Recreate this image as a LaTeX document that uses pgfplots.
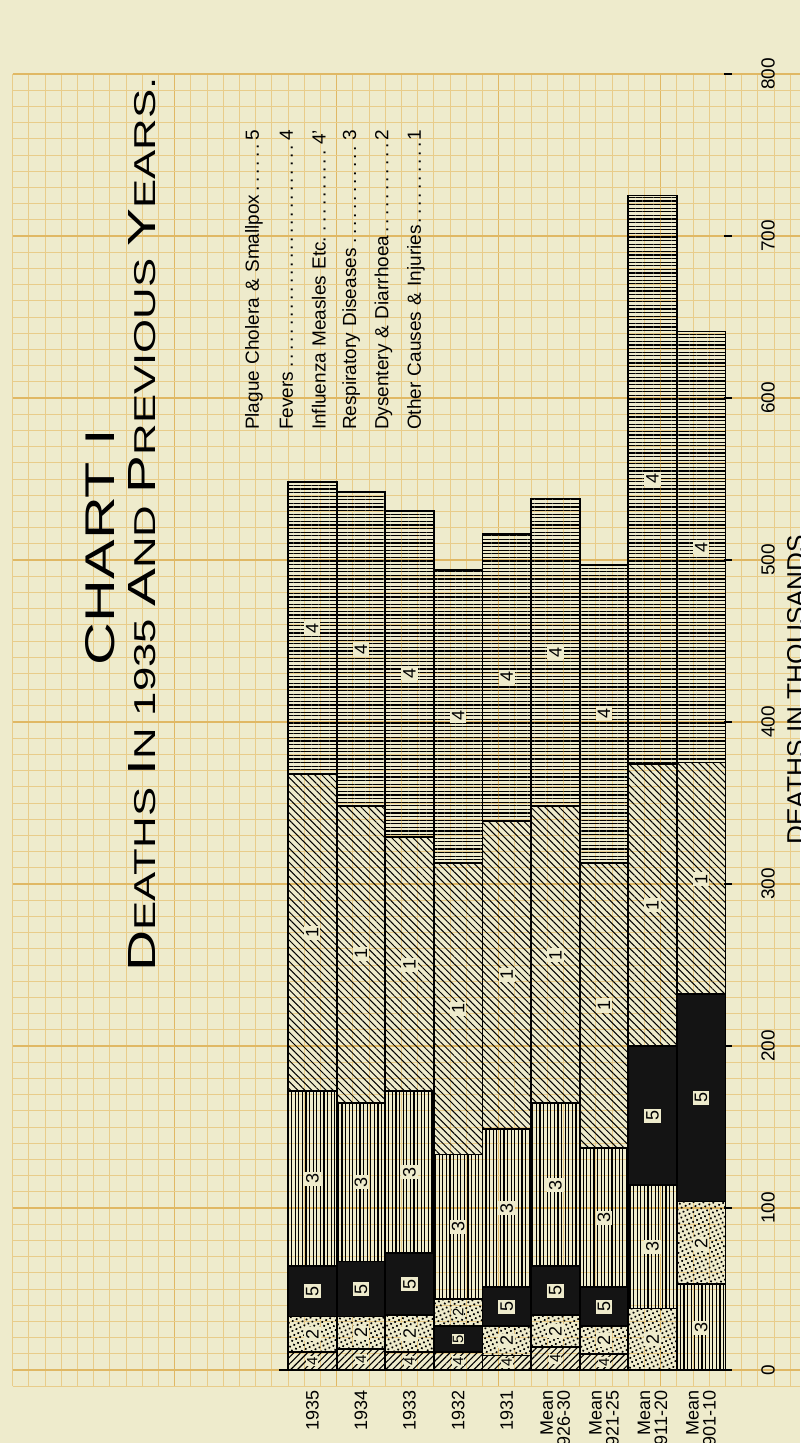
\documentclass[border=0pt]{standalone}
\usepackage{fontspec}
\setmainfont{Liberation Sans}
\usepackage{graphicx}
\usepackage{pgfplots}
\pgfplotsset{compat=1.18}
\usepackage{pgfplotstable}
\usetikzlibrary{patterns.meta}

\definecolor{paper}{RGB}{238,235,204}
\definecolor{gridmin}{RGB}{232,204,138}
\definecolor{gridmaj}{RGB}{224,184,100}

% deaths in thousands, stacked from the base of each column
% x = column centre in grid squares (3 squares per column)
\pgfplotstableread{
x    infl reslow plglow dys resmid plg res oth fev
1.5  11   0      0      22  0      31  108 196 180
4.5  13   0      0      20  0      34  98  183 194
7.5  11   0      0      23  0      38  100 157 201
10.5 11   0      16     17  0      0   89  180 181
13.5 9    0      0      18  0      24  98  190 177
16.5 14   0      0      20  0      30  101 183 190
19.5 10   0      0      17  0      24  86  176 184
22.5 0    0      0      38  76     86  0   174 351
25.5 0    53     0      51  0      128 0   143 266
}\deaths

\newcommand\bc[1]{\scalebox{1.3}{#1}}

\begin{document}
\begin{tikzpicture}[
  lbl/.style={rotate=90, fill=paper, inner sep=1pt, font=\fontsize{9}{9}\selectfont},
  lbs/.style={rotate=90, fill=paper, inner sep=0.4pt, font=\fontsize{7.5}{7.5}\selectfont},
  leg/.style={rotate=90, anchor=west, text width=150pt, align=left, inner sep=0pt,
              font=\fontsize{9.5}{10}\selectfont},
  cat/.style={rotate=90, anchor=east, align=right, inner sep=0pt,
              font=\fontsize{9}{8.5}\selectfont},
]
\fill[paper] (-6.3pt,-28.4pt) rectangle (393.7pt,693.1pt);
\begin{axis}[
  at={(0,0)}, anchor=south west,
  scale only axis, width=393.7pt, height=656.1pt,
  xmin=-17, xmax=31.605, ymin=-10, ymax=800,
  axis line style={draw=none},
  major tick length=0pt, minor tick length=0pt,
  xtick={-7,3,13,23}, minor xtick={-17,-16,...,31},
  ytick={0,100,...,800}, minor ytick={-10,0,...,800},
  xticklabels={}, yticklabels={},
  grid=both,
  major grid style={draw=gridmaj, line width=0.7pt},
  minor grid style={draw=gridmin, line width=0.4pt},
  clip=false,
  ybar stacked, bar width=3,
  every axis plot/.append style={draw=black, line width=0.9pt},
]
\addplot[pattern={Lines[angle=45,distance=2.4pt,line width=0.55pt]}, pattern color=black]
  table[x=x,y=infl]{\deaths};
\addplot[pattern={Lines[angle=90,distance=1.8pt,line width=0.55pt]}, pattern color=black]
  table[x=x,y=reslow]{\deaths};
\addplot[fill=black!92]
  table[x=x,y=plglow]{\deaths};
\addplot[pattern={Dots[distance=2.2pt,radius=0.6pt,angle=25]}, pattern color=black]
  table[x=x,y=dys]{\deaths};
\addplot[pattern={Lines[angle=90,distance=1.8pt,line width=0.55pt]}, pattern color=black]
  table[x=x,y=resmid]{\deaths};
\addplot[fill=black!92]
  table[x=x,y=plg]{\deaths};
\addplot[pattern={Lines[angle=90,distance=1.8pt,line width=0.55pt]}, pattern color=black]
  table[x=x,y=res]{\deaths};
\addplot[pattern={Lines[angle=-45,distance=2.5pt,line width=0.5pt]}, pattern color=black]
  table[x=x,y=oth]{\deaths};
\addplot[pattern={Lines[angle=0,distance=1.8pt,line width=0.55pt]}, pattern color=black]
  table[x=x,y=fev]{\deaths};

% base line and scale ticks
\draw[line width=1.4pt] (axis cs:-0.55,0) -- (axis cs:27.4,0);
\pgfplotsinvokeforeach{0,100,...,800}{
  \draw[line width=0.9pt] (axis cs:26.9,#1) -- (axis cs:27.4,#1);
  \node[rotate=90, font=\fontsize{9.5}{9.5}\selectfont] at (axis cs:29.63,#1) {#1};
}

% column names
\node[cat] at (axis cs:1.5,-12.3) {1935};
\node[cat] at (axis cs:4.5,-12.3) {1934};
\node[cat] at (axis cs:7.5,-12.3) {1933};
\node[cat] at (axis cs:10.5,-12.3) {1932};
\node[cat] at (axis cs:13.5,-12.3) {1931};
\node[cat] at (axis cs:16.5,-12.3) {Mean\\1926-30};
\node[cat] at (axis cs:19.5,-12.3) {Mean\\1921-25};
\node[cat] at (axis cs:22.5,-12.3) {Mean\\1911-20};
\node[cat] at (axis cs:25.5,-12.3) {Mean\\1901-10};

% key
\node[leg] at (axis cs:-2.1,580) {Plague Cholera \& Smallpox\dotfill 5};
\node[leg] at (axis cs:-0.1,580) {Fevers\dotfill 4};
\node[leg] at (axis cs:1.9,580) {Influenza Measles Etc.\dotfill 4'};
\node[leg] at (axis cs:3.9,580) {Respiratory Diseases\dotfill 3};
\node[leg] at (axis cs:5.9,580) {Dysentery \& Diarrhoea\dotfill 2};
\node[leg] at (axis cs:7.9,580) {Other Causes \& Injuries\dotfill 1};

% titles
\node[rotate=90, inner sep=0pt] at (axis cs:-11.6,508)
  {\resizebox{118pt}{14.5pt}{CHART I}};
\node[rotate=90, inner sep=0pt] at (axis cs:-9.0,522)
  {\resizebox{447pt}{13.5pt}{\bc{D}EATHS \bc{I}N 1935 \bc{A}ND \bc{P}REVIOUS \bc{Y}EARS.}};
\node[rotate=90, anchor=north, inner sep=0pt] at (axis cs:30.8,420)
  {\resizebox{155pt}{9pt}{DEATHS IN THOUSANDS}};
\end{axis}

% code numbers in the segments, drawn over the bars
% (same frame as the axis: 8.1pt per grid square, 0.81pt per thousand)
\begin{scope}[x=8.1pt, y=0.81pt, shift={(137.7pt,8.1pt)}]
\node[lbs] at (1.5,5.5) {4};   \node[lbl] at (1.5,22) {2};
\node[lbl] at (1.5,48.5) {5};  \node[lbl] at (1.5,118) {3};
\node[lbl] at (1.5,270) {1};   \node[lbl] at (1.5,458) {4};
\node[lbs] at (4.5,6.5) {4};   \node[lbl] at (4.5,23) {2};
\node[lbl] at (4.5,50) {5};    \node[lbl] at (4.5,116) {3};
\node[lbl] at (4.5,257) {1};   \node[lbl] at (4.5,445) {4};
\node[lbs] at (7.5,5.5) {4};   \node[lbl] at (7.5,22.5) {2};
\node[lbl] at (7.5,53) {5};    \node[lbl] at (7.5,122) {3};
\node[lbl] at (7.5,250) {1};   \node[lbl] at (7.5,430) {4};
\node[lbs] at (10.5,5.5) {4};  \node[lbs] at (10.5,19) {5};
\node[lbs] at (10.5,35.5) {2}; \node[lbl] at (10.5,88.5) {3};
\node[lbl] at (10.5,223) {1};  \node[lbl] at (10.5,404) {4};
\node[lbs] at (13.5,4.5) {4};  \node[lbl] at (13.5,18) {2};
\node[lbl] at (13.5,39) {5};   \node[lbl] at (13.5,100) {3};
\node[lbl] at (13.5,244) {1};  \node[lbl] at (13.5,428) {4};
\node[lbs] at (16.5,7) {4};    \node[lbl] at (16.5,24) {2};
\node[lbl] at (16.5,49) {5};   \node[lbl] at (16.5,114) {3};
\node[lbl] at (16.5,256) {1};  \node[lbl] at (16.5,443) {4};
\node[lbs] at (19.5,5) {4};    \node[lbl] at (19.5,18.5) {2};
\node[lbl] at (19.5,39) {5};   \node[lbl] at (19.5,94) {3};
\node[lbl] at (19.5,225) {1};  \node[lbl] at (19.5,405) {4};
\node[lbl] at (22.5,19) {2};   \node[lbl] at (22.5,76) {3};
\node[lbl] at (22.5,157) {5};  \node[lbl] at (22.5,287) {1};
\node[lbl] at (22.5,550) {4};
\node[lbl] at (25.5,26) {3};   \node[lbl] at (25.5,78) {2};
\node[lbl] at (25.5,168) {5};  \node[lbl] at (25.5,303) {1};
\node[lbl] at (25.5,508) {4};
\end{scope}

\pgfresetboundingbox
\path[use as bounding box] (-6.3pt,-28.4pt) rectangle (393.7pt,693.1pt);
\end{tikzpicture}
\end{document}
